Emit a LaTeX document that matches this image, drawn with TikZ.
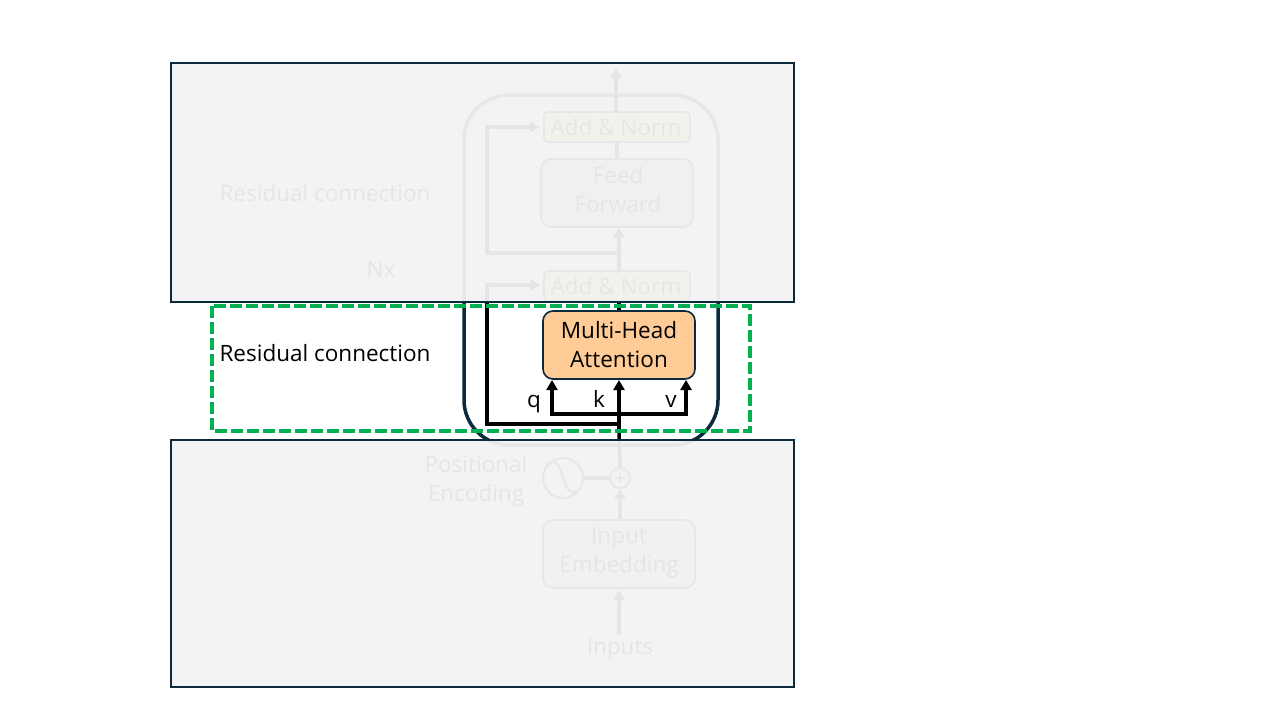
\documentclass[tikz,border=0pt]{standalone}
\usepackage{fontspec}
\setmainfont{Open Sans}
\usetikzlibrary{arrows.meta}
\definecolor{navy}{HTML}{0B2B3C}
\definecolor{panelgrey}{HTML}{F2F2F2}
\definecolor{normfill}{HTML}{FFFF99}
\definecolor{forwardfill}{HTML}{BFDFD0}
\definecolor{attnfill}{HTML}{FFCB97}
\definecolor{embedfill}{HTML}{FBE3D6}
\definecolor{dashgreen}{HTML}{00B050}
\tikzset{
  label/.style={font=\fontsize{22.5}{29}\selectfont,align=center,inner sep=0pt},
  block/.style={label,draw=navy,line width=1.6pt,rounded corners=10pt,minimum width=152pt,minimum height=68pt},
  normblock/.style={block,fill=normfill,rounded corners=4pt,minimum width=146pt,minimum height=30pt},
  flow/.style={line width=3.5pt,-{Triangle[length=10pt,width=11pt]}},
  plainflow/.style={line width=3.5pt},
  panel/.style={draw=navy,line width=1.8pt,fill=panelgrey,fill opacity=.95},
}
\begin{document}
\begin{tikzpicture}[x=1pt,y=-1pt]
  \useasboundingbox (0,0) rectangle (1280,720);
  % the encoder frame
  \node[draw=navy,line width=3.5pt,rounded corners=45pt,minimum width=254pt,minimum height=350pt,inner sep=0pt] (frame) at (591,270) {};
  % blocks
  \node[normblock] (normtop) at (617,127) {};
  \node[label] (normtoptext) at (616,127) {Add \& Norm};
  \node[block,fill=forwardfill] (forward) at (617,193) {};
  \node[label] (forwardtext) at (618,190) {Feed\\Forward};
  \node[normblock] (normlow) at (617,286) {};
  \node[label] (normlowtext) at (616,286) {Add \& Norm};
  \node[block,fill=attnfill] (attn) at (619,345) {};
  \node[label] (attntext) at (619,344.5) {Multi-Head\\Attention};
  \node[block,fill=embedfill] (embed) at (619,554) {};
  \node[label] (embedtext) at (619,553) {Input\\Embedding};
  \node[label] (inputs) at (620,649) {Inputs};
  \node[draw=navy,line width=2pt,circle,minimum size=20pt,inner sep=0pt] (plus) at (620,478) {};
  \draw[navy,line width=1.5pt] (615,478) -- (625,478) (620,473) -- (620,483);
  \node[draw=navy,line width=2pt,circle,minimum size=40pt,inner sep=0pt] (sine) at (563,478) {};
  \draw[navy,line width=2pt] (546,466) .. controls (553,458) and (558,462) .. (562,474) .. controls (566,488) and (570,496) .. (579,490);
  \node[label] (posenc) at (476,481.5) {Positional\\Encoding};
  \node[label] (nx) at (381,269) {Nx};
  \node[label] (restop) at (325,193) {Residual connection};
  \node[label] (reslow) at (325,353) {Residual connection};
  \node[label,anchor=base] (qlabel) at (534,407) {q};
  \node[label,anchor=base] (klabel) at (599,407) {k};
  \node[label,anchor=base] (vlabel) at (671,407) {v};
  % branch points
  \coordinate (out) at (616,68);
  \coordinate (outfoot) at (616,112);
  \coordinate (splitmid) at (619,253);
  \coordinate (splitbot) at (619,424);
  \coordinate (fork) at (619,414);
  \coordinate (intop) at (540,127);
  \coordinate (inlow) at (540,285);
  \coordinate (qtip) at (552,380);
  \coordinate (ktip) at (619,380);
  \coordinate (vtip) at (686,380);
  \coordinate (insfoot) at (619,634);
  \coordinate (instip) at (619,590);
  % connectors
  \draw[flow] (outfoot) -- (out);
  \draw[plainflow] (forward.north) -- (normtop.south);
  \draw[flow] (normlow.north-|splitmid) -- (forward.south-|splitmid);
  \draw[flow] (splitmid) -| (487,127) -- (intop);
  \draw[plainflow] (attn.north) -- (normlow.south-|attn.north);
  \draw[flow] (splitbot) -| (487,285) -- (inlow);
  \draw[plainflow] (plus.north) -- (619,430);
  \draw[flow] (619,430) -- (ktip);
  \draw[flow] (fork) -| (qtip);
  \draw[flow] (fork) -| (vtip);
  \draw[plainflow] (sine.east) -- (plus.west);
  \draw[flow] (embed.north-|plus) -- (plus.south);
  \draw[flow] (insfoot) -- (instip);
  % grey panels over the rest
  \draw[panel] (171,63) rectangle (794,302);
  \draw[panel] (171,440) rectangle (794,687);
  % highlight
  \draw[dashgreen,line width=3.5pt,dash pattern=on 12pt off 4pt] (212,306) rectangle (750,431);
\end{tikzpicture}
\end{document}
